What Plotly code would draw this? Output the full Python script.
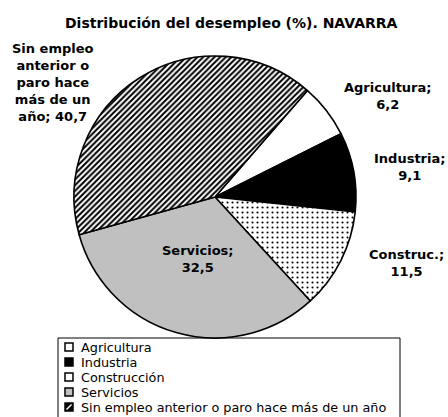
import plotly.graph_objects as go

# Datos
categorias = ["Agricultura", "Industria", "Construcción", "Servicios",
              "Sin empleo anterior o paro hace más de un año"]
rotulos = ["Agricultura;", "Industria;", "Construc.;", "Servicios;",
           "Sin empleo<br>anterior o<br>paro hace<br>más de un<br>año;"]
valores = [6.2, 9.1, 11.5, 32.5, 40.7]
titulo = "Distribución del desempleo (%). NAVARRA"

W, H = 448, 417
FONT = "DejaVu Sans"

# Estilo de cada sector
fondos = ["#FFFFFF", "#000000", "#FFFFFF", "#C0C0C0", "#FFFFFF"]
tramas = ["", "", ".", "", "/"]
tam_trama = [6, 6, 5, 6, 4]
solidez = [0.3, 0.3, 0.14, 0.3, 0.5]


def px(x, y):
    """Pixeles (desde arriba-izquierda) -> coordenadas paper."""
    return x / W, 1 - y / H


# Círculo de la tarta: centro y diámetro en px
cx, cy, d = 215, 197, 282
x0, y1 = px(cx - d / 2, cy - d / 2)
x1, y0 = px(cx + d / 2, cy + d / 2)

fig = go.Figure(
    go.Pie(
        labels=categorias,
        values=valores,
        sort=False,
        direction="clockwise",
        rotation=41,
        textinfo="none",
        hoverinfo="label+value",
        marker={
            "colors": fondos,
            "line": {"color": "#000000", "width": 1.6},
            "pattern": {
                "shape": tramas,
                "fgcolor": "#000000",
                "bgcolor": fondos,
                "size": tam_trama,
                "solidity": solidez,
            },
        },
        domain={"x": [x0, x1], "y": [y0, y1]},
        showlegend=False,
    )
)

# Rótulos de los sectores: (x, y, anclaje horizontal)
pos_rotulos = [(388, 96, "center"), (447, 167, "right"), (446, 263, "right"),
               (198, 259, "center"), (53, 82, "center")]
separador = ["<br>", "<br>", "<br>", "<br>", " "]
for rot, val, sep, (x, y, anc) in zip(rotulos, valores, separador, pos_rotulos):
    ax, ay = px(x, y)
    fig.add_annotation(
        text=f"<b>{rot}{sep}{str(val).replace('.', ',')}</b>",
        xref="paper", yref="paper", x=ax, y=ay,
        xanchor=anc, yanchor="middle", showarrow=False,
        font={"family": FONT, "size": 13, "color": "#000000"},
    )

# Título
tx, ty = px(231, 23)
fig.add_annotation(
    text=f"<b>{titulo}</b>", xref="paper", yref="paper", x=tx, y=ty,
    xanchor="center", yanchor="middle", showarrow=False,
    font={"family": FONT, "size": 14, "color": "#000000"},
)

# Leyenda dibujada a mano (la de plotly no permite filas tan juntas)
lx0, ly1 = px(58, 338)
lx1, ly0 = px(400, 418)
fig.add_shape(type="rect", xref="paper", yref="paper",
              x0=lx0, x1=lx1, y0=ly0, y1=ly1,
              line={"color": "#000000", "width": 1}, fillcolor="#FFFFFF",
              layer="below")
fondos_ley = ["#FFFFFF", "#000000", "#FFFFFF", "#C0C0C0", "#000000"]
for i, (cat, fondo) in enumerate(zip(categorias, fondos_ley)):
    yc = 347 + 15 * i
    mx0, my1 = px(65, yc - 4)
    mx1, my0 = px(73, yc + 4)
    fig.add_shape(type="rect", xref="paper", yref="paper",
                  x0=mx0, x1=mx1, y0=my0, y1=my1,
                  line={"color": "#000000", "width": 1.5}, fillcolor=fondo)
    if tramas[i] == "/":
        fig.add_shape(type="line", xref="paper", yref="paper",
                      x0=mx0 + 1.5 / W, x1=mx1 - 1.5 / W,
                      y0=my0 + 1.5 / H, y1=my1 - 1.5 / H,
                      line={"color": "#FFFFFF", "width": 1.5})
    tx, ty = px(79, yc)
    fig.add_annotation(
        text=cat, xref="paper", yref="paper", x=tx, y=ty,
        xanchor="left", yanchor="middle", showarrow=False,
        font={"family": FONT, "size": 12.8, "color": "#000000"},
    )

fig.update_layout(
    width=W, height=H,
    margin={"l": 0, "r": 0, "t": 0, "b": 0},
    paper_bgcolor="#FFFFFF",
    plot_bgcolor="#FFFFFF",
)

# El body de la página trae 8px de margen por defecto: se quita
fig.write_html("out.html", config={"displayModeBar": False},
               post_script="document.body.style.margin = '0px';")
